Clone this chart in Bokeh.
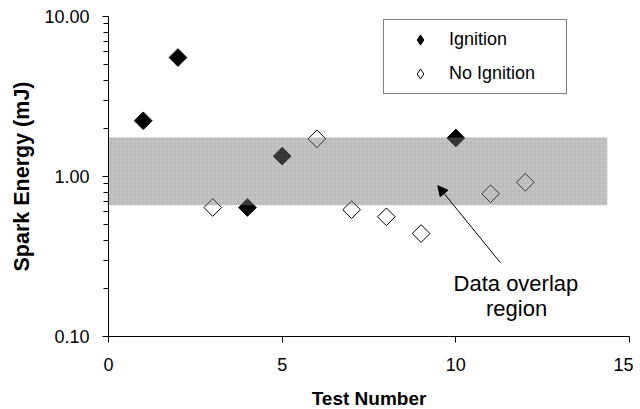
import math
from bokeh.plotting import figure
from bokeh.models import (Range1d, FixedTicker, PrintfTickFormatter, Legend, LegendItem,
                          Arrow, NormalHead, Label, ColumnDataSource)
from bokeh.embed import file_html
from bokeh.resources import INLINE

# ---- data ----
ign_test = [1, 2, 4, 5, 10]
ign_energy = [2.23, 5.54, 0.64, 1.34, 1.74]
noign_test = [3, 6, 7, 8, 9, 11, 12]
noign_energy = [0.64, 1.72, 0.62, 0.56, 0.44, 0.78, 0.92]
band_left = [0.0]
band_right = [14.36]
band_low = [0.66]
band_high = [1.75]
x_ticks = [0, 5, 10, 15]
y_ticks = [0.1, 1.0, 10.0]
y_minor = [0.2, 0.3, 0.4, 0.5, 0.6, 0.7, 0.8, 0.9, 2, 3, 4, 5, 6, 7, 8, 9]
arrow_start = (11.28, 0.29)
arrow_end = (9.48, 0.876)

FONT = "Liberation Sans"

p = figure(frame_width=521, frame_height=320, y_axis_type="log",
           x_range=Range1d(0, 15), y_range=Range1d(0.1, 10),
           output_backend="svg", toolbar_location=None,
           min_border_left=108, min_border_right=4, min_border_top=16, min_border_bottom=60)
p.outline_line_color = None
p.xgrid.visible = False
p.ygrid.visible = False
p.background_fill_color = "white"

# axes
p.xaxis.ticker = FixedTicker(ticks=x_ticks)
p.yaxis.ticker = FixedTicker(ticks=y_ticks, minor_ticks=y_minor)
p.yaxis.formatter = PrintfTickFormatter(format="%.2f")
for ax in (p.xaxis, p.yaxis):
    ax.axis_line_color = "black"
    ax.major_tick_line_color = "black"
    ax.major_tick_in = 0
    ax.major_tick_out = 6
    ax.major_label_text_font = FONT
    ax.major_label_text_font_size = "18px"
    ax.major_label_text_color = "black"
    ax.axis_label_text_font = FONT
    ax.axis_label_text_font_style = "bold"
    ax.axis_label_text_color = "black"
p.xaxis.minor_tick_line_color = None
p.yaxis.minor_tick_line_color = "black"
p.yaxis.minor_tick_in = 0
p.yaxis.minor_tick_out = 5
p.xaxis.axis_label = "Test Number"
p.yaxis.axis_label = "Spark Energy (mJ)"
p.xaxis.axis_label_text_font_size = "19px"
p.yaxis.axis_label_text_font_size = "21.5px"
p.xaxis.major_label_standoff = 15
p.yaxis.major_label_standoff = 13
p.xaxis.axis_label_standoff = 14
p.yaxis.axis_label_standoff = 7

# markers
r_ign = p.scatter(ign_test, ign_energy, marker="square", angle=math.pi / 4, size=12.5,
                  fill_color="black", line_color="black", line_width=1)
r_no = p.scatter(noign_test, noign_energy, marker="square", angle=math.pi / 4, size=12.5,
                 fill_color="white", line_color="black", line_width=1)

# legend-only renderers (diamond icons, no visible points)
nan = float("nan")
leg_ign = p.scatter([nan], [nan], marker="diamond", fill_color="black", line_color="black")
leg_no = p.scatter([nan], [nan], marker="diamond", fill_color="white", line_color="black")

# overlap band (semi-transparent, over the markers)
band_src = ColumnDataSource(dict(left=band_left, right=band_right, bottom=band_low, top=band_high))
p.quad(left="left", right="right", bottom="bottom", top="top", source=band_src,
       fill_color="#767676", fill_alpha=0.43, line_color=None,
       hatch_pattern="+", hatch_scale=4, hatch_color="#707070", hatch_alpha=0.12, hatch_weight=1)

# arrow and text
p.add_layout(Arrow(end=NormalHead(size=10, fill_color="black", line_color="black", line_width=1),
                   x_start=arrow_start[0], y_start=arrow_start[1],
                   x_end=arrow_end[0], y_end=arrow_end[1], line_color="black", line_width=1))
p.add_layout(Label(x=11.73, y=0.2143, text="Data overlap", text_align="center",
                   text_baseline="alphabetic", text_font=FONT, text_font_size="22px",
                   text_color="black"))
p.add_layout(Label(x=11.75, y=0.1494, text="region", text_align="center",
                   text_baseline="alphabetic", text_font=FONT, text_font_size="22px",
                   text_color="black"))

# legend
legend = Legend(items=[LegendItem(label="Ignition", renderers=[leg_ign]),
                       LegendItem(label="No Ignition", renderers=[leg_no])],
                location=(275, 242), padding=7, spacing=9, glyph_width=58, glyph_height=25,
                label_standoff=0, label_width=110, margin=0,
                label_text_font=FONT, label_text_font_size="18px", label_text_color="black",
                border_line_color="black", border_line_width=1, background_fill_color="white",
                background_fill_alpha=1)
p.add_layout(legend)

open("out.html", "w").write(file_html(p, INLINE))
